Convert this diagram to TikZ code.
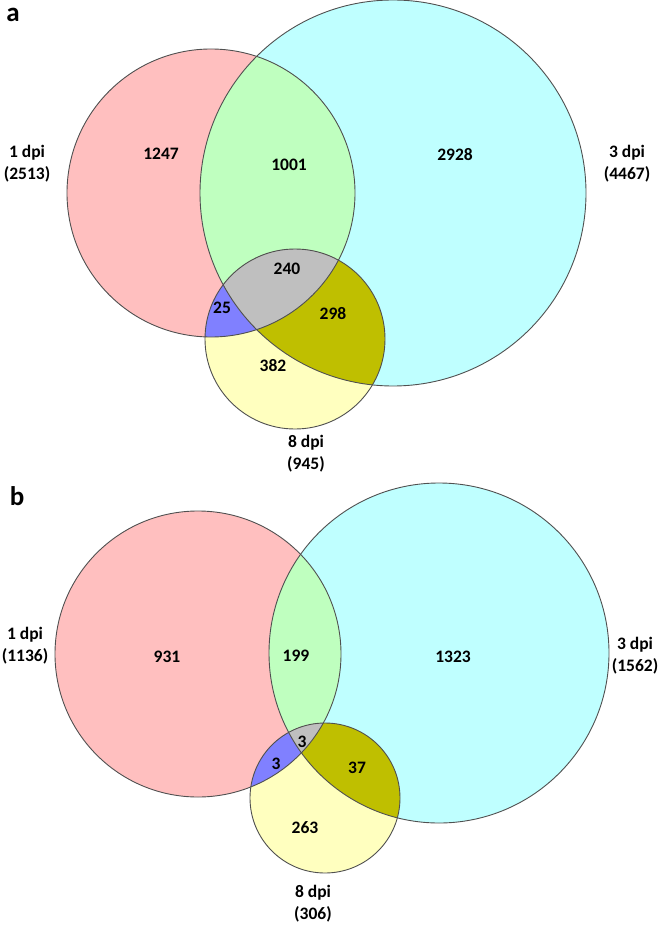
\documentclass[tikz,border=0pt]{standalone}
\usepackage{fontspec}
\setmainfont{Carlito}
\usetikzlibrary{positioning}
\definecolor{dpired}{RGB}{255,191,191}
\definecolor{dpicyan}{RGB}{191,255,255}
\definecolor{dpiyellow}{RGB}{255,255,191}
\definecolor{dpigreen}{RGB}{191,255,191}
\definecolor{dpiblue}{RGB}{128,128,255}
\definecolor{dpiolive}{RGB}{191,191,0}
\definecolor{dpigray}{RGB}{191,191,191}
\definecolor{rimgray}{RGB}{80,80,80}

\begin{document}
\begin{tikzpicture}[x=1pt, y=-1pt,
  rim/.style={draw=rimgray, line width=0.9pt},
  cnt/.style={font=\bfseries\fontsize{17.5}{21}\selectfont, inner sep=0pt},
  grp/.style={font=\bfseries\fontsize{17.5}{22}\selectfont, align=center, inner sep=0pt},
  panel/.style={font=\bfseries\fontsize{27}{30}\selectfont, inner sep=0pt}
]
\useasboundingbox (0,0) rectangle (659,925);

% panel a
\coordinate (aone) at (211,193);
\coordinate (athree) at (393,193);
\coordinate (aeight) at (295,339);
\fill[dpired] (aone) circle[radius=144pt];
\fill[dpicyan] (athree) circle[radius=193pt];
\fill[dpiyellow] (aeight) circle[radius=90pt];
\begin{scope}
  \clip (aone) circle[radius=144pt];
  \fill[dpigreen] (athree) circle[radius=193pt];
  \fill[dpiblue] (aeight) circle[radius=90pt];
\end{scope}
\begin{scope}
  \clip (athree) circle[radius=193pt];
  \fill[dpiolive] (aeight) circle[radius=90pt];
\end{scope}
\begin{scope}
  \clip (aone) circle[radius=144pt];
  \clip (athree) circle[radius=193pt];
  \fill[dpigray] (aeight) circle[radius=90pt];
\end{scope}
\draw[rim] (aone) circle[radius=144pt];
\draw[rim] (athree) circle[radius=193pt];
\draw[rim] (aeight) circle[radius=90pt];

\node[panel] (tag-a) at (13,15) {a};
\node[grp] (a-one) at (27,164) {1 dpi\\(2513)};
\node[grp] (a-three) at (627,164) {3 dpi\\(4467)};
\node[grp] (a-eight) at (306,454) {8 dpi\\(945)};
\node[cnt] (a-1) at (161,154) {1247};
\node[cnt] (a-13) at (289,165) {1001};
\node[cnt] (a-3) at (455,155) {2928};
\node[cnt] (a-138) at (287,269) {240};
\node[cnt] (a-18) at (222,308) {25};
\node[cnt] (a-38) at (333,314) {298};
\node[cnt] (a-8) at (273,366) {382};

% panel b
\coordinate (bone) at (198,654);
\coordinate (bthree) at (439,653);
\coordinate (beight) at (325,798);
\fill[dpired] (bone) circle[radius=143pt];
\fill[dpicyan] (bthree) circle[radius=170pt];
\fill[dpiyellow] (beight) circle[radius=75pt];
\begin{scope}
  \clip (bone) circle[radius=143pt];
  \fill[dpigreen] (bthree) circle[radius=170pt];
  \fill[dpiblue] (beight) circle[radius=75pt];
\end{scope}
\begin{scope}
  \clip (bthree) circle[radius=170pt];
  \fill[dpiolive] (beight) circle[radius=75pt];
\end{scope}
\begin{scope}
  \clip (bone) circle[radius=143pt];
  \clip (bthree) circle[radius=170pt];
  \fill[dpigray] (beight) circle[radius=75pt];
\end{scope}
\draw[rim] (bone) circle[radius=143pt];
\draw[rim] (bthree) circle[radius=170pt];
\draw[rim] (beight) circle[radius=75pt];

\node[panel] (tag-b) at (17,496) {b};
\node[grp] (b-one) at (25,646) {1 dpi\\(1136)};
\node[grp] (b-three) at (635,656) {3 dpi\\(1562)};
\node[grp] (b-eight) at (313,904) {8 dpi\\(306)};
\node[cnt] (b-1) at (167,657) {931};
\node[cnt] (b-13) at (296,656) {199};
\node[cnt] (b-3) at (453,657) {1323};
\node[cnt] (b-138) at (302,742) {3};
\node[cnt] (b-18) at (276,764) {3};
\node[cnt] (b-38) at (357,768) {37};
\node[cnt] (b-8) at (305,828) {263};
\end{tikzpicture}
\end{document}
